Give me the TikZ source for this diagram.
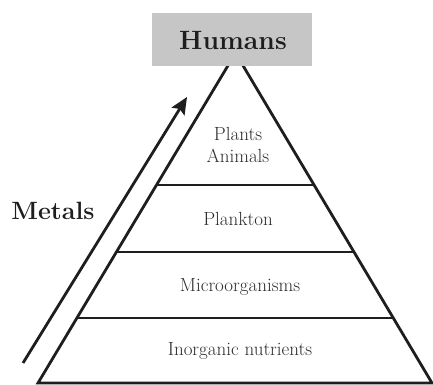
\documentclass[tikz,border=0pt]{standalone}
\usepackage{fontspec}
\usetikzlibrary{calc,arrows.meta}
\definecolor{linec}{HTML}{1E1E1E}
\definecolor{boxc}{HTML}{C6C6C6}
\definecolor{txtc}{HTML}{2C2C2C}
\tikzset{
  edge/.style={draw=linec,line width=2.8pt},
  layer/.style={text=txtc,font=\fontsize{19}{22}\selectfont,align=center,inner sep=0pt},
  big/.style={text=linec,font=\fontsize{25}{29}\selectfont\bfseries,inner sep=0pt},
}
\begin{document}
\begin{tikzpicture}[x=1pt,y=-1pt]
\useasboundingbox (0,0) rectangle (433,384);
\coordinate (apex) at (235.5,53);
\coordinate (bl) at (38,383);
\coordinate (br) at (432,383);
% triangle
\draw[edge,line join=miter] (bl) -- (apex) -- (br) -- cycle;
% layers
\draw[edge] ($(apex)!0.4!(bl)$) coordinate (l1) -- ($(apex)!0.4!(br)$) coordinate (r1);
\draw[edge] ($(apex)!0.603!(bl)$) coordinate (l2) -- ($(apex)!0.603!(br)$) coordinate (r2);
\draw[edge] ($(apex)!0.803!(bl)$) coordinate (l3) -- ($(apex)!0.803!(br)$) coordinate (r3);
% Humans box
\node[fill=boxc,minimum width=160pt,minimum height=53pt,inner sep=0pt] (hbox) at (232,39.5) {};
\node[big,font=\fontsize{26.5}{30}\selectfont\bfseries] (humans) at (233,40) {Humans};
% labels
\node[layer] (plants) at (238,134) {Plants};
\node[layer] (animals) at (238,156) {Animals};
\node[layer] (plankton) at (238,219) {Plankton};
\node[layer] (micro) at (240,287) {Microorganisms};
\node[layer] (inorg) at (240,351) {Inorganic nutrients};
% metals arrow
\coordinate (a0) at (23,363);
\coordinate (a1) at (187,97);
\draw[edge,-{Stealth[length=17pt,width=15pt,inset=3pt]}] (a0) -- (a1);
\node[big] (metals) at (53,211) {Metals};
\end{tikzpicture}
\end{document}
